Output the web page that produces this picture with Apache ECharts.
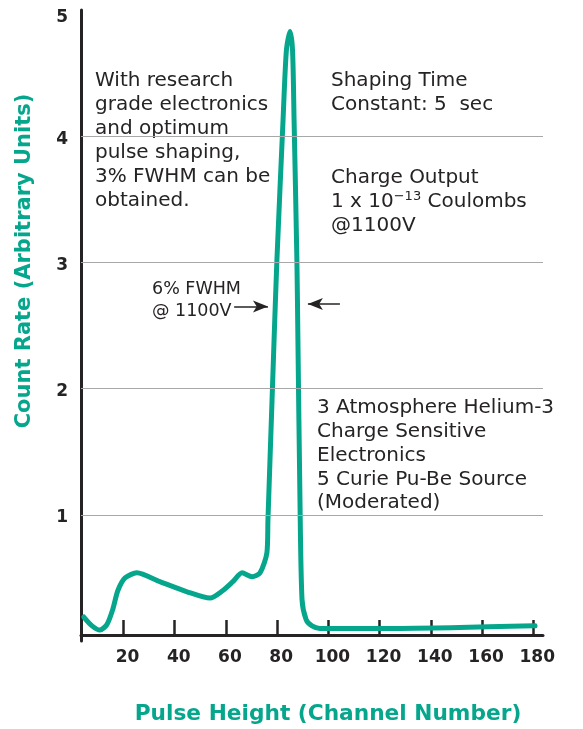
<!DOCTYPE html>
<html>
<head>
<meta charset="utf-8">
<script src="https://cdn.jsdelivr.net/npm/echarts@6/dist/echarts.min.js"></script>
<style>
  html, body { margin: 0; padding: 0; background: #fff; }
  #chart { width: 583px; height: 729px; }
</style>
</head>
<body>
<div id="chart"></div>
<script>
// pulse height spectrum
const channel = [4.5, 7.7, 10.8, 13.5, 15.8, 17.8, 20.6, 25.2, 34.2, 44.8, 53.8, 58.8, 62.7, 66.3, 70.2, 73.3, 76.0, 76.4, 78.0, 78.8, 79.9, 82.3, 83.6, 85.0, 86.0, 86.6, 87.7, 88.1, 88.9, 89.7, 91.3, 93.6, 96.7, 128, 180.7];
const countRate = [0.19, 0.12, 0.087, 0.13, 0.25, 0.40, 0.50, 0.54, 0.47, 0.39, 0.34, 0.40, 0.47, 0.54, 0.51, 0.54, 0.70, 0.96, 1.91, 2.39, 3.02, 4.13, 4.68, 4.83, 4.68, 4.13, 3.02, 2.39, 1.12, 0.33, 0.17, 0.12, 0.10, 0.10, 0.12];
const xTicks = [20, 40, 60, 80, 100, 120, 140, 160, 180];
const yGridLines = [1, 2, 3, 4];

// FWHM arrows: [fromX, toX, y]
const fwhmLeft = [63.2, 76.4, 2.65];
const fwhmRight = [104.5, 92.0, 2.67];

const teal = '#06a68c';
const ink = '#262324';
const font = '"DejaVu Sans", sans-serif';

const chart = echarts.init(document.getElementById('chart'));

const note = (left, top, text, extra) => ({
  type: 'text',
  left: left,
  top: top,
  style: Object.assign({
    text: text,
    fill: ink,
    font: '20px ' + font,
    lineHeight: 24
  }, extra || {})
});

const arrow = (a) => [
  { coord: [a[0], a[2]], symbol: 'none' },
  { coord: [a[1], a[2]], symbol: 'arrow', symbolSize: [9, 15] }
];

chart.setOption({
  animation: false,
  grid: { left: 81, right: 40, top: 10, bottom: 88 },
  xAxis: {
    type: 'value',
    min: 3.4,
    max: 183.8,
    axisLine: { onZero: false, lineStyle: { color: ink, width: 3 } },
    offset: -6,
    axisTick: {
      inside: true, length: 15, customValues: xTicks,
      lineStyle: { color: ink, width: 2.5 }
    },
    axisLabel: {
      customValues: xTicks,
      margin: 14,
      color: ink,
      fontSize: 17,
      fontWeight: 'bold',
      fontFamily: font,
      padding: [0, 0, 0, 8]
    },
    splitLine: { show: false }
  },
  yAxis: {
    type: 'value',
    min: 0,
    max: 5,
    interval: 1,
    axisLine: { show: true, lineStyle: { color: ink, width: 3 } },
    axisTick: { show: false },
    axisLabel: {
      margin: 13,
      formatter: v => v === 0 ? '' : (v === 5 ? '{t|5}' : '{n|' + v + '}'),
      rich: {
        n: { color: ink, fontSize: 17, fontWeight: 'bold', fontFamily: font, padding: [6, 0, 0, 0] },
        t: { color: ink, fontSize: 17, fontWeight: 'bold', fontFamily: font, padding: [16, 0, 0, 0] }
      }
    },
    splitLine: { show: false }
  },
  series: [
    {
      // horizontal guide lines
      type: 'line',
      data: [],
      z: 1,
      markLine: {
        silent: true,
        symbol: ['none', 'none'],
        label: { show: false },
        lineStyle: { color: '#a8a8a8', width: 1, type: 'solid' },
        data: yGridLines.map(v => ({ yAxis: v }))
      }
    },
    {
      type: 'line',
      data: channel.map((c, i) => [c, countRate[i]]),
      smooth: 0.25,
      showSymbol: false,
      z: 3,
      lineStyle: { color: teal, width: 5, cap: 'round', join: 'round' },
      markLine: {
        silent: true,
        label: { show: false },
        lineStyle: { color: ink, width: 1.5, type: 'solid' },
        itemStyle: { color: ink },
        data: [arrow(fwhmLeft), arrow(fwhmRight)]
      }
    }
  ],
  graphic: [
    note(95, 69, 'With research\ngrade electronics\nand optimum\npulse shaping,\n3% FWHM can be\nobtained.'),
    note(331, 69, 'Shaping Time\nConstant: 5  sec'),
    {
      type: 'text',
      left: 331,
      top: 166,
      style: {
        text: 'Charge Output\n1 x 10{sup|−13} Coulombs\n@1100V',
        fill: ink,
        font: '20px ' + font,
        lineHeight: 24,
        rich: {
          sup: { fontSize: 13, fontFamily: font, fill: ink, padding: [0, 0, 10, 0] }
        }
      }
    },
    note(152, 278, '6% FWHM\n@ 1100V', { font: '17.5px ' + font, lineHeight: 22 }),
    note(317, 396, '3 Atmosphere Helium-3\nCharge Sensitive\nElectronics\n5 Curie Pu-Be Source\n(Moderated)', { lineHeight: 23.8 }),
    {
      type: 'text',
      x: 25,
      y: 261,
      rotation: Math.PI / 2,
      style: {
        text: 'Count Rate (Arbitrary Units)',
        fill: teal,
        font: 'bold 21px ' + font,
        align: 'center',
        verticalAlign: 'middle'
      }
    },
    {
      type: 'text',
      x: 328,
      y: 714,
      style: {
        text: 'Pulse Height (Channel Number)',
        fill: teal,
        font: 'bold 21.7px ' + font,
        align: 'center',
        verticalAlign: 'middle'
      }
    }
  ]
});
</script>
</body>
</html>
